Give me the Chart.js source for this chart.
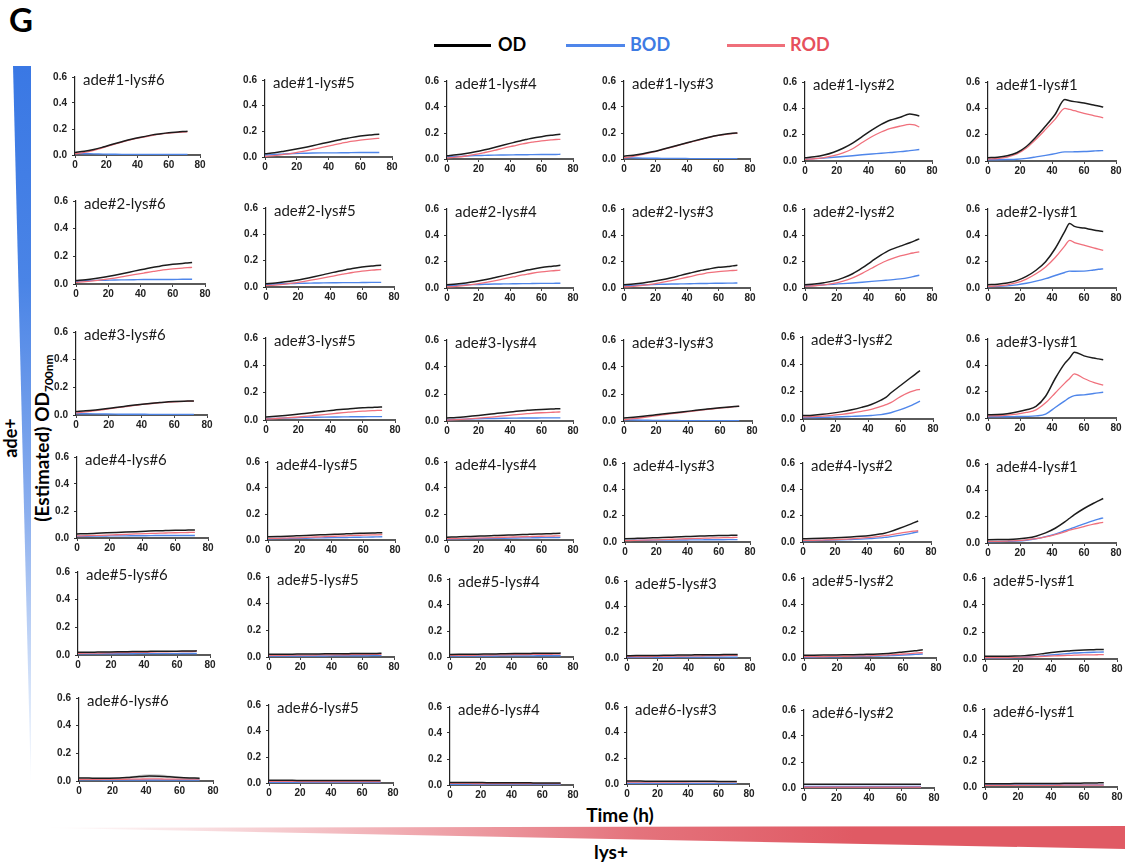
<!DOCTYPE html>
<html lang="en">
<head>
<meta charset="utf-8">
<title>ade / lys co-culture growth curves</title>
<script src="https://cdn.jsdelivr.net/npm/chart.js@4.4.1/dist/chart.umd.min.js"></script>
<style>
  html, body { margin: 0; padding: 0; background: #fff; }
  body { position: relative; width: 1125px; height: 863px; overflow: hidden;
         font-family: Lato, "Open Sans", "Liberation Sans", sans-serif; color: #000; }
  .abs { position: absolute; white-space: nowrap; line-height: 1; }
  .bold { font-weight: 700; }
  .panel { position: absolute; }
  .panel canvas { display: block; }
  .ptitle { position: absolute; font-size: 15px; line-height: 1; color: #1a1a1a; white-space: nowrap; }
  .rot { transform: translate(-50%, -50%) rotate(-90deg); }
  sub.nm { font-size: 12px; vertical-align: -4px; }
</style>
</head>
<body>

<div class="abs bold" style="left:9px; top:3px; font-size:33px;">G</div>

<!-- legend -->
<div class="abs" style="left:434px; top:43.5px; width:57px; height:3px; background:#000;"></div>
<div class="abs bold" style="left:498px; top:35px; font-size:18px; color:#000;">OD</div>
<div class="abs" style="left:566px; top:43.5px; width:59px; height:3px; background:#4f86ea;"></div>
<div class="abs bold" style="left:630px; top:35px; font-size:18px; color:#3d7be3;">BOD</div>
<div class="abs" style="left:727px; top:43.5px; width:58px; height:3px; background:#ef6f7a;"></div>
<div class="abs bold" style="left:790px; top:35px; font-size:18px; color:#e6505c;">ROD</div>

<!-- gradient wedges for the ade+ / lys+ supplements -->
<div class="abs" style="left:13px; top:66px; width:18px; height:724px;
     clip-path: polygon(0 0, 100% 0, 100% 100%);
     background: linear-gradient(180deg, #3a78e4 0%, #4a84e6 30%, #8cafee 62%, #dbe7fa 88%, #ffffff 100%);"></div>
<div class="abs" style="left:40px; top:826px; width:1085px; height:23px;
     clip-path: polygon(0 8%, 100% 0, 100% 100%);
     background: linear-gradient(90deg, #ffffff 0%, #f9e1e3 14%, #f0aab0 34%, #e4737c 55%, #e05a64 75%, #e05a64 100%);"></div>

<div class="abs bold rot" style="left:10px; top:438px; font-size:18px;">ade+</div>
<div class="abs bold rot" style="left:43px; top:438px; font-size:19px;">(Estimated) OD<sub class="nm">700nm</sub></div>
<div class="abs bold" style="left:620px; top:805px; font-size:19px; transform:translateX(-50%);">Time (h)</div>
<div class="abs bold" style="left:611px; top:842px; font-size:19px; transform:translateX(-50%);">lys+</div>

<div id="grid"></div>

<script>
// Sampling times (h) shared by every growth curve
const TIME_H = [0, 6, 12, 18, 24, 30, 36, 42, 48, 51, 54, 60, 66, 69, 72];
const X_TICKS = [0, 20, 40, 60, 80];
const Y_TICKS = [0, 0.2, 0.4, 0.6];
const ADE_STRAINS = ['ade#1', 'ade#2', 'ade#3', 'ade#4', 'ade#5', 'ade#6'];
const LYS_STRAINS = ['lys#6', 'lys#5', 'lys#4', 'lys#3', 'lys#2', 'lys#1'];

// ---- ade#1 ----
const OD_A1L6  = [0.020,0.028,0.042,0.061,0.082,0.102,0.121,0.137,0.151,0.157,0.162,0.171,0.177,0.180,0.182];
const BOD_A1L6 = [0.012,0.010,0.009,0.007,0.006,0.005,0.005,0.004,0.004,0.004,0.004,0.004,0.004,0.004,0.004];
const ROD_A1L6 = [0.010,0.020,0.036,0.057,0.078,0.099,0.118,0.134,0.148,0.154,0.160,0.168,0.174,0.177,0.179];

const OD_A1L5  = [0.025,0.033,0.045,0.058,0.072,0.088,0.105,0.121,0.137,0.144,0.151,0.163,0.172,0.175,0.178];
const BOD_A1L5 = [0.015,0.019,0.024,0.027,0.029,0.031,0.032,0.032,0.033,0.033,0.034,0.035,0.035,0.035,0.035];
const ROD_A1L5 = [0.005,0.011,0.020,0.031,0.044,0.059,0.075,0.091,0.107,0.114,0.121,0.132,0.140,0.143,0.145];

const OD_A1L4  = [0.025,0.032,0.042,0.055,0.071,0.089,0.108,0.126,0.144,0.152,0.160,0.172,0.182,0.186,0.190];
const BOD_A1L4 = [0.015,0.019,0.023,0.026,0.028,0.030,0.031,0.032,0.033,0.033,0.034,0.035,0.035,0.035,0.036];
const ROD_A1L4 = [0.008,0.014,0.023,0.035,0.050,0.066,0.084,0.100,0.116,0.123,0.129,0.140,0.147,0.150,0.151];

const OD_A1L3  = [0.022,0.029,0.040,0.055,0.073,0.092,0.112,0.131,0.150,0.159,0.168,0.183,0.194,0.198,0.200];
const BOD_A1L3 = [0.010,0.009,0.007,0.006,0.005,0.004,0.004,0.003,0.003,0.003,0.003,0.003,0.003,0.003,0.003];
const ROD_A1L3 = [0.010,0.020,0.035,0.052,0.071,0.090,0.110,0.129,0.148,0.157,0.166,0.181,0.192,0.196,0.198];

const OD_A1L2  = [0.025,0.032,0.045,0.067,0.097,0.136,0.185,0.234,0.278,0.296,0.311,0.332,0.357,0.352,0.342];
const BOD_A1L2 = [0.012,0.018,0.022,0.028,0.034,0.040,0.047,0.053,0.059,0.062,0.065,0.071,0.079,0.083,0.087];
const ROD_A1L2 = [0.012,0.017,0.025,0.040,0.062,0.093,0.140,0.184,0.220,0.235,0.248,0.265,0.278,0.274,0.258];

const OD_A1L1  = [0.025,0.029,0.040,0.063,0.110,0.182,0.265,0.355,0.467,0.458,0.451,0.440,0.425,0.418,0.410];
const BOD_A1L1 = [0.010,0.010,0.011,0.013,0.020,0.031,0.043,0.056,0.069,0.069,0.070,0.072,0.076,0.078,0.079];
const ROD_A1L1 = [0.015,0.019,0.030,0.053,0.098,0.165,0.240,0.318,0.400,0.392,0.382,0.362,0.345,0.337,0.328];

// ---- ade#2 ----
const OD_A2L6  = [0.025,0.031,0.040,0.051,0.064,0.078,0.093,0.107,0.121,0.127,0.133,0.142,0.149,0.152,0.155];
const BOD_A2L6 = [0.020,0.023,0.026,0.027,0.029,0.030,0.031,0.032,0.032,0.033,0.033,0.033,0.034,0.034,0.034];
const ROD_A2L6 = [0.012,0.017,0.024,0.033,0.043,0.055,0.067,0.079,0.091,0.096,0.102,0.109,0.115,0.118,0.120];

const OD_A2L5  = [0.025,0.030,0.039,0.050,0.063,0.078,0.094,0.111,0.126,0.134,0.141,0.152,0.160,0.163,0.166];
const BOD_A2L5 = [0.020,0.023,0.025,0.027,0.029,0.030,0.031,0.032,0.033,0.033,0.033,0.034,0.035,0.035,0.035];
const ROD_A2L5 = [0.010,0.015,0.022,0.031,0.043,0.056,0.069,0.083,0.097,0.104,0.110,0.121,0.128,0.131,0.133];

const OD_A2L4  = [0.025,0.030,0.038,0.049,0.062,0.078,0.094,0.111,0.128,0.136,0.143,0.155,0.164,0.168,0.172];
const BOD_A2L4 = [0.018,0.021,0.024,0.026,0.028,0.030,0.031,0.032,0.033,0.033,0.034,0.035,0.035,0.036,0.036];
const ROD_A2L4 = [0.008,0.013,0.020,0.029,0.041,0.054,0.069,0.084,0.099,0.105,0.112,0.123,0.130,0.133,0.135];

const OD_A2L3  = [0.025,0.030,0.038,0.049,0.062,0.078,0.096,0.114,0.131,0.138,0.145,0.157,0.163,0.168,0.172];
const BOD_A2L3 = [0.015,0.019,0.023,0.026,0.028,0.030,0.031,0.032,0.034,0.034,0.035,0.036,0.037,0.037,0.038];
const ROD_A2L3 = [0.008,0.013,0.020,0.029,0.042,0.056,0.071,0.087,0.103,0.110,0.116,0.125,0.130,0.133,0.135];

const OD_A2L2  = [0.025,0.030,0.040,0.054,0.077,0.108,0.152,0.203,0.252,0.273,0.291,0.318,0.344,0.358,0.373];
const BOD_A2L2 = [0.015,0.019,0.024,0.029,0.033,0.038,0.044,0.050,0.056,0.059,0.062,0.069,0.081,0.089,0.097];
const ROD_A2L2 = [0.014,0.017,0.024,0.035,0.052,0.077,0.111,0.150,0.188,0.205,0.220,0.244,0.261,0.268,0.275];

const OD_A2L1  = [0.025,0.029,0.038,0.056,0.088,0.135,0.200,0.300,0.430,0.490,0.468,0.455,0.441,0.435,0.430];
const BOD_A2L1 = [0.010,0.012,0.016,0.024,0.036,0.052,0.071,0.095,0.118,0.128,0.127,0.128,0.137,0.142,0.145];
const ROD_A2L1 = [0.012,0.016,0.024,0.040,0.068,0.108,0.160,0.232,0.320,0.362,0.345,0.325,0.305,0.295,0.285];

// ---- ade#3 ----
const OD_A3L6  = [0.025,0.030,0.037,0.045,0.054,0.063,0.072,0.080,0.087,0.090,0.093,0.097,0.100,0.101,0.102];
const BOD_A3L6 = [0.010,0.009,0.008,0.007,0.006,0.005,0.005,0.005,0.004,0.004,0.004,0.004,0.004,0.004,0.004];
const ROD_A3L6 = [0.015,0.022,0.031,0.041,0.051,0.060,0.069,0.078,0.085,0.088,0.091,0.095,0.098,0.100,0.101];

const OD_A3L5  = [0.022,0.027,0.033,0.040,0.048,0.056,0.064,0.072,0.078,0.081,0.084,0.089,0.092,0.094,0.095];
const BOD_A3L5 = [0.010,0.012,0.015,0.017,0.019,0.020,0.021,0.022,0.023,0.023,0.024,0.024,0.025,0.025,0.025];
const ROD_A3L5 = [0.008,0.011,0.015,0.020,0.026,0.033,0.040,0.047,0.054,0.057,0.060,0.065,0.068,0.070,0.071];

const OD_A3L4  = [0.022,0.026,0.032,0.039,0.046,0.054,0.062,0.069,0.076,0.079,0.082,0.086,0.089,0.090,0.091];
const BOD_A3L4 = [0.010,0.012,0.014,0.016,0.018,0.019,0.020,0.021,0.022,0.022,0.022,0.023,0.023,0.023,0.023];
const ROD_A3L4 = [0.007,0.010,0.014,0.019,0.025,0.031,0.038,0.045,0.051,0.054,0.057,0.061,0.064,0.066,0.067];

const OD_A3L3  = [0.022,0.028,0.035,0.043,0.051,0.059,0.067,0.075,0.083,0.087,0.091,0.098,0.104,0.107,0.110];
const BOD_A3L3 = [0.008,0.007,0.006,0.005,0.004,0.004,0.003,0.003,0.003,0.003,0.003,0.003,0.003,0.003,0.003];
const ROD_A3L3 = [0.010,0.017,0.026,0.036,0.045,0.054,0.063,0.072,0.080,0.084,0.088,0.096,0.102,0.106,0.109];

const OD_A3L2  = [0.025,0.028,0.034,0.043,0.054,0.068,0.085,0.106,0.138,0.158,0.190,0.245,0.300,0.327,0.354];
const BOD_A3L2 = [0.010,0.011,0.012,0.014,0.016,0.019,0.022,0.026,0.032,0.038,0.046,0.068,0.096,0.113,0.130];
const ROD_A3L2 = [0.015,0.017,0.021,0.027,0.034,0.044,0.056,0.070,0.092,0.105,0.120,0.164,0.198,0.210,0.217];

const OD_A3L1  = [0.025,0.027,0.033,0.045,0.062,0.088,0.165,0.300,0.415,0.455,0.500,0.472,0.455,0.449,0.443];
const BOD_A3L1 = [0.010,0.010,0.010,0.011,0.012,0.016,0.030,0.080,0.130,0.155,0.170,0.176,0.186,0.191,0.196];
const ROD_A3L1 = [0.015,0.017,0.022,0.030,0.042,0.062,0.115,0.190,0.265,0.300,0.335,0.300,0.270,0.260,0.250];

// ---- ade#4 ----
const OD_A4L6  = [0.030,0.032,0.035,0.038,0.041,0.044,0.047,0.050,0.053,0.054,0.055,0.057,0.058,0.059,0.060];
const BOD_A4L6 = [0.012,0.013,0.014,0.015,0.016,0.016,0.017,0.017,0.018,0.018,0.018,0.019,0.019,0.019,0.019];
const ROD_A4L6 = [0.015,0.017,0.019,0.021,0.024,0.027,0.030,0.033,0.035,0.036,0.037,0.039,0.040,0.041,0.042];

const OD_A4L5  = [0.025,0.027,0.029,0.032,0.035,0.038,0.041,0.044,0.047,0.048,0.050,0.052,0.054,0.055,0.056];
const BOD_A4L5 = [0.010,0.011,0.012,0.013,0.014,0.016,0.017,0.018,0.019,0.020,0.021,0.022,0.023,0.024,0.025];
const ROD_A4L5 = [0.012,0.013,0.015,0.017,0.020,0.023,0.026,0.029,0.032,0.033,0.035,0.037,0.039,0.040,0.041];

const OD_A4L4  = [0.022,0.024,0.026,0.029,0.031,0.034,0.037,0.039,0.042,0.043,0.045,0.047,0.049,0.050,0.051];
const BOD_A4L4 = [0.008,0.009,0.010,0.011,0.012,0.013,0.014,0.015,0.016,0.016,0.017,0.018,0.019,0.019,0.020];
const ROD_A4L4 = [0.010,0.011,0.013,0.015,0.017,0.019,0.021,0.023,0.025,0.026,0.027,0.029,0.030,0.031,0.032];

const OD_A4L3  = [0.025,0.027,0.029,0.032,0.034,0.037,0.040,0.042,0.045,0.046,0.047,0.049,0.050,0.051,0.052];
const BOD_A4L3 = [0.012,0.013,0.013,0.014,0.014,0.015,0.015,0.016,0.016,0.017,0.017,0.017,0.018,0.018,0.018];
const ROD_A4L3 = [0.010,0.012,0.014,0.016,0.018,0.021,0.023,0.026,0.028,0.029,0.030,0.032,0.033,0.034,0.035];

const OD_A4L2  = [0.025,0.026,0.028,0.031,0.034,0.038,0.043,0.050,0.060,0.067,0.077,0.102,0.130,0.145,0.160];
const BOD_A4L2 = [0.010,0.011,0.012,0.014,0.016,0.019,0.022,0.026,0.031,0.035,0.039,0.050,0.062,0.070,0.078];
const ROD_A4L2 = [0.012,0.013,0.015,0.017,0.020,0.024,0.029,0.035,0.043,0.048,0.053,0.066,0.077,0.082,0.086];

const OD_A4L1  = [0.025,0.026,0.027,0.030,0.038,0.052,0.077,0.112,0.160,0.188,0.215,0.262,0.302,0.320,0.338];
const BOD_A4L1 = [0.010,0.011,0.012,0.015,0.021,0.032,0.048,0.068,0.093,0.106,0.119,0.145,0.170,0.181,0.191];
const ROD_A4L1 = [0.012,0.013,0.015,0.018,0.024,0.033,0.046,0.064,0.085,0.097,0.107,0.125,0.143,0.150,0.156];

// ---- ade#5 ----
const OD_A5L6  = [0.020,0.020,0.021,0.022,0.023,0.024,0.025,0.026,0.027,0.027,0.028,0.028,0.029,0.029,0.030];
const BOD_A5L6 = [0.008,0.008,0.008,0.009,0.009,0.009,0.010,0.010,0.010,0.010,0.010,0.010,0.011,0.011,0.011];
const ROD_A5L6 = [0.012,0.013,0.014,0.015,0.017,0.018,0.019,0.020,0.022,0.022,0.023,0.024,0.025,0.025,0.026];

const OD_A5L5  = [0.020,0.021,0.021,0.022,0.022,0.023,0.024,0.024,0.025,0.025,0.026,0.026,0.027,0.027,0.028];
const BOD_A5L5 = [0.007,0.007,0.007,0.008,0.008,0.008,0.008,0.009,0.009,0.009,0.009,0.009,0.010,0.010,0.010];
const ROD_A5L5 = [0.012,0.012,0.013,0.014,0.014,0.015,0.016,0.016,0.017,0.017,0.018,0.018,0.019,0.019,0.020];

const OD_A5L4  = [0.020,0.021,0.022,0.022,0.023,0.024,0.025,0.026,0.027,0.027,0.028,0.028,0.029,0.029,0.030];
const BOD_A5L4 = [0.007,0.007,0.008,0.008,0.008,0.008,0.009,0.009,0.009,0.009,0.009,0.010,0.010,0.010,0.010];
const ROD_A5L4 = [0.012,0.013,0.013,0.014,0.015,0.016,0.017,0.018,0.019,0.019,0.020,0.021,0.021,0.022,0.022];

const OD_A5L3  = [0.018,0.019,0.019,0.020,0.021,0.022,0.023,0.024,0.025,0.025,0.026,0.026,0.027,0.027,0.028];
const BOD_A5L3 = [0.006,0.006,0.006,0.006,0.006,0.006,0.007,0.007,0.007,0.007,0.007,0.007,0.007,0.007,0.007];
const ROD_A5L3 = [0.010,0.011,0.011,0.012,0.013,0.014,0.015,0.016,0.017,0.018,0.018,0.019,0.020,0.021,0.021];

const OD_A5L2  = [0.020,0.021,0.022,0.023,0.024,0.025,0.027,0.029,0.032,0.034,0.037,0.045,0.053,0.057,0.062];
const BOD_A5L2 = [0.008,0.008,0.009,0.009,0.010,0.011,0.012,0.014,0.016,0.017,0.019,0.022,0.026,0.028,0.030];
const ROD_A5L2 = [0.010,0.011,0.011,0.012,0.013,0.014,0.016,0.018,0.021,0.023,0.025,0.030,0.035,0.038,0.040];

const OD_A5L1  = [0.020,0.020,0.021,0.022,0.025,0.032,0.041,0.050,0.057,0.060,0.063,0.067,0.069,0.070,0.071];
const BOD_A5L1 = [0.008,0.008,0.009,0.010,0.013,0.018,0.025,0.032,0.038,0.041,0.044,0.047,0.050,0.051,0.052];
const ROD_A5L1 = [0.010,0.010,0.011,0.012,0.014,0.017,0.020,0.023,0.026,0.027,0.028,0.030,0.031,0.032,0.033];

// ---- ade#6 ----
const OD_A6L6  = [0.022,0.021,0.020,0.020,0.021,0.026,0.032,0.036,0.035,0.033,0.030,0.025,0.022,0.021,0.020];
const OD_SD_A6L6 = [0.003,0.003,0.003,0.003,0.004,0.008,0.012,0.014,0.013,0.012,0.010,0.007,0.004,0.003,0.003];
const BOD_A6L6 = [0.008,0.008,0.008,0.007,0.007,0.007,0.007,0.007,0.007,0.007,0.007,0.007,0.007,0.007,0.007];
const ROD_A6L6 = [0.012,0.012,0.012,0.012,0.012,0.013,0.014,0.015,0.015,0.014,0.014,0.013,0.013,0.013,0.013];

const OD_A6L5  = [0.021,0.021,0.021,0.020,0.020,0.020,0.020,0.020,0.020,0.019,0.019,0.019,0.019,0.019,0.019];
const BOD_A6L5 = [0.006,0.006,0.006,0.006,0.006,0.006,0.006,0.006,0.006,0.006,0.006,0.006,0.006,0.006,0.006];
const ROD_A6L5 = [0.012,0.012,0.012,0.012,0.011,0.011,0.011,0.011,0.011,0.011,0.011,0.011,0.011,0.011,0.011];

const OD_A6L4  = [0.020,0.020,0.019,0.019,0.018,0.018,0.018,0.017,0.017,0.017,0.016,0.016,0.016,0.015,0.015];
const BOD_A6L4 = [0.006,0.006,0.006,0.006,0.006,0.006,0.005,0.005,0.005,0.005,0.005,0.005,0.005,0.005,0.005];
const ROD_A6L4 = [0.012,0.012,0.012,0.011,0.011,0.011,0.011,0.010,0.010,0.010,0.010,0.010,0.010,0.010,0.010];

const OD_A6L3  = [0.023,0.023,0.022,0.022,0.022,0.022,0.021,0.021,0.021,0.021,0.021,0.020,0.020,0.020,0.020];
const BOD_A6L3 = [0.006,0.006,0.006,0.005,0.005,0.005,0.005,0.005,0.005,0.004,0.004,0.004,0.004,0.004,0.004];
const ROD_A6L3 = [0.014,0.014,0.014,0.015,0.015,0.015,0.015,0.016,0.016,0.016,0.016,0.016,0.017,0.017,0.017];

const OD_A6L2  = [0.029,0.029,0.028,0.028,0.028,0.028,0.028,0.028,0.028,0.028,0.028,0.028,0.028,0.028,0.028];
const BOD_A6L2 = [0.012,0.012,0.012,0.012,0.012,0.011,0.011,0.011,0.011,0.011,0.011,0.011,0.011,0.011,0.011];
const ROD_A6L2 = [0.007,0.007,0.007,0.007,0.006,0.006,0.006,0.006,0.006,0.006,0.006,0.006,0.006,0.006,0.006];

const OD_A6L1  = [0.025,0.025,0.025,0.026,0.026,0.026,0.027,0.027,0.028,0.028,0.029,0.030,0.031,0.032,0.033];
const BOD_A6L1 = [0.015,0.015,0.015,0.015,0.015,0.015,0.016,0.016,0.016,0.016,0.016,0.016,0.016,0.016,0.016];
const ROD_A6L1 = [0.012,0.012,0.012,0.012,0.013,0.013,0.013,0.013,0.014,0.014,0.014,0.014,0.015,0.015,0.015];

// [OD, BOD, ROD] per panel; rows = ade strains, columns = lys strains
const PANEL_SERIES = [
  [[OD_A1L6,BOD_A1L6,ROD_A1L6],[OD_A1L5,BOD_A1L5,ROD_A1L5],[OD_A1L4,BOD_A1L4,ROD_A1L4],[OD_A1L3,BOD_A1L3,ROD_A1L3],[OD_A1L2,BOD_A1L2,ROD_A1L2],[OD_A1L1,BOD_A1L1,ROD_A1L1]],
  [[OD_A2L6,BOD_A2L6,ROD_A2L6],[OD_A2L5,BOD_A2L5,ROD_A2L5],[OD_A2L4,BOD_A2L4,ROD_A2L4],[OD_A2L3,BOD_A2L3,ROD_A2L3],[OD_A2L2,BOD_A2L2,ROD_A2L2],[OD_A2L1,BOD_A2L1,ROD_A2L1]],
  [[OD_A3L6,BOD_A3L6,ROD_A3L6],[OD_A3L5,BOD_A3L5,ROD_A3L5],[OD_A3L4,BOD_A3L4,ROD_A3L4],[OD_A3L3,BOD_A3L3,ROD_A3L3],[OD_A3L2,BOD_A3L2,ROD_A3L2],[OD_A3L1,BOD_A3L1,ROD_A3L1]],
  [[OD_A4L6,BOD_A4L6,ROD_A4L6],[OD_A4L5,BOD_A4L5,ROD_A4L5],[OD_A4L4,BOD_A4L4,ROD_A4L4],[OD_A4L3,BOD_A4L3,ROD_A4L3],[OD_A4L2,BOD_A4L2,ROD_A4L2],[OD_A4L1,BOD_A4L1,ROD_A4L1]],
  [[OD_A5L6,BOD_A5L6,ROD_A5L6],[OD_A5L5,BOD_A5L5,ROD_A5L5],[OD_A5L4,BOD_A5L4,ROD_A5L4],[OD_A5L3,BOD_A5L3,ROD_A5L3],[OD_A5L2,BOD_A5L2,ROD_A5L2],[OD_A5L1,BOD_A5L1,ROD_A5L1]],
  [[OD_A6L6,BOD_A6L6,ROD_A6L6],[OD_A6L5,BOD_A6L5,ROD_A6L5],[OD_A6L4,BOD_A6L4,ROD_A6L4],[OD_A6L3,BOD_A6L3,ROD_A6L3],[OD_A6L2,BOD_A6L2,ROD_A6L2],[OD_A6L1,BOD_A6L1,ROD_A6L1]]
];
// replicate spread on OD, where it is shown
const OD_SPREAD = { '5,0': OD_SD_A6L6 };

// Plot-area box of each panel on the page: [x at 0 h, x at 80 h, y at 0.6, y at 0.0]
const PANEL_BOX = [
  [[75,200,72,155],[265,392,75,157],[447,573,76,159],[624,750,76,159],[805,932,77,161],[988,1116,77,161]],
  [[76,205,196,284],[266,394,203,287],[447,573,204,288],[624,750,204,288],[805,932,204,288],[988,1116,204,288]],
  [[76,207,327,415],[266,395,333,420],[447,573,335,421],[624,752,335,421],[803,933,332,419],[988,1116,334,418]],
  [[77,208,452,538],[268,395,457,540],[447,573,457,540],[625,750,458,542],[803,931,458,542],[988,1116,459,543]],
  [[78,210,567,655],[269,394,572,657],[450,573,574,657],[627,750,576,658],[804,936,573,658],[985,1117,573,659]],
  [[79,213,693,781],[269,393,700,783],[450,573,702,785],[627,749,702,784],[804,934,705,788],[985,1117,704,787]]
];

const AXIS_W = 32, AXIS_H = 16, PAD_T = 6, PAD_R = 8;
const TICK_FONT = { family: "'Liberation Sans Narrow', 'Liberation Sans', Arial, sans-serif", size: 10, weight: 'bold' };
const COLORS = { OD: '#1c1c1c', BOD: '#4f86ea', ROD: '#f0707c' };

const toPoints = arr => arr.map((v, i) => ({ x: TIME_H[i], y: v }));

function lineSet(label, arr, color, width) {
  return { label, data: toPoints(arr), borderColor: color, borderWidth: width,
           pointRadius: 0, fill: false, cubicInterpolationMode: 'monotone' };
}

function buildPanel(r, c) {
  const [x0, x1, yTop, yBot] = PANEL_BOX[r][c];
  const w = (x1 - x0) + AXIS_W + PAD_R;
  const h = (yBot - yTop) + PAD_T + AXIS_H;
  const wrap = document.createElement('div');
  wrap.className = 'panel';
  wrap.style.left = (x0 - AXIS_W) + 'px';
  wrap.style.top = (yTop - PAD_T) + 'px';
  wrap.style.width = w + 'px';
  wrap.style.height = h + 'px';
  const cv = document.createElement('canvas');
  cv.width = w; cv.height = h;
  cv.style.width = w + 'px'; cv.style.height = h + 'px';
  wrap.appendChild(cv);
  document.getElementById('grid').appendChild(wrap);

  const title = document.createElement('div');
  title.className = 'ptitle';
  title.textContent = ADE_STRAINS[r] + '-' + LYS_STRAINS[c];
  title.style.left = (x0 + 8) + 'px';
  title.style.top = (yTop + 13 - 0.887 * 15) + 'px';
  document.getElementById('grid').appendChild(title);

  const [od, bod, rod] = PANEL_SERIES[r][c];
  const datasets = [
    lineSet('OD', od, COLORS.OD, 1.5),
    lineSet('ROD', rod, COLORS.ROD, 1.3),
    lineSet('BOD', bod, COLORS.BOD, 1.4)
  ];
  const sd = OD_SPREAD[r + ',' + c];
  if (sd) {
    datasets.push({ label: 'OD+sd', data: toPoints(od.map((v, i) => v + sd[i])), borderWidth: 0,
                    pointRadius: 0, fill: '+1', backgroundColor: 'rgba(110,110,110,0.28)',
                    cubicInterpolationMode: 'monotone' });
    datasets.push({ label: 'OD-sd', data: toPoints(od.map((v, i) => v - sd[i])), borderWidth: 0,
                    pointRadius: 0, fill: false, cubicInterpolationMode: 'monotone' });
  }

  new Chart(cv, {
    type: 'line',
    data: { datasets },
    options: {
      responsive: false, maintainAspectRatio: false, animation: false, devicePixelRatio: 1,
      events: [],
      layout: { padding: { top: PAD_T, right: PAD_R, left: 0, bottom: 0 } },
      plugins: { legend: { display: false }, tooltip: { enabled: false }, title: { display: false } },
      scales: {
        x: {
          type: 'linear', min: X_TICKS[0], max: X_TICKS[X_TICKS.length - 1],
          afterFit: s => { s.height = AXIS_H; },
          afterBuildTicks: s => { s.ticks = X_TICKS.map(v => ({ value: v })); },
          border: { display: true, color: '#5a5a5a', width: 2 },
          grid: { display: true, drawOnChartArea: false, drawTicks: true, tickLength: 3, color: '#444', lineWidth: 1 },
          ticks: { color: '#222', font: TICK_FONT, padding: 1, maxRotation: 0, autoSkip: false,
                   callback: v => String(v) }
        },
        y: {
          type: 'linear', min: Y_TICKS[0], max: Y_TICKS[Y_TICKS.length - 1],
          afterFit: s => { s.width = AXIS_W; },
          afterBuildTicks: s => { s.ticks = Y_TICKS.map(v => ({ value: v })); },
          border: { display: true, color: '#222', width: 1.2 },
          grid: { display: true, drawOnChartArea: false, drawTicks: true, tickLength: 3, color: '#333', lineWidth: 1 },
          ticks: { color: '#222', font: TICK_FONT, padding: 5, autoSkip: false,
                   callback: v => Number(v).toFixed(1) }
        }
      }
    }
  });
}

for (let r = 0; r < ADE_STRAINS.length; r++) {
  for (let c = 0; c < LYS_STRAINS.length; c++) buildPanel(r, c);
}
</script>
</body>
</html>
